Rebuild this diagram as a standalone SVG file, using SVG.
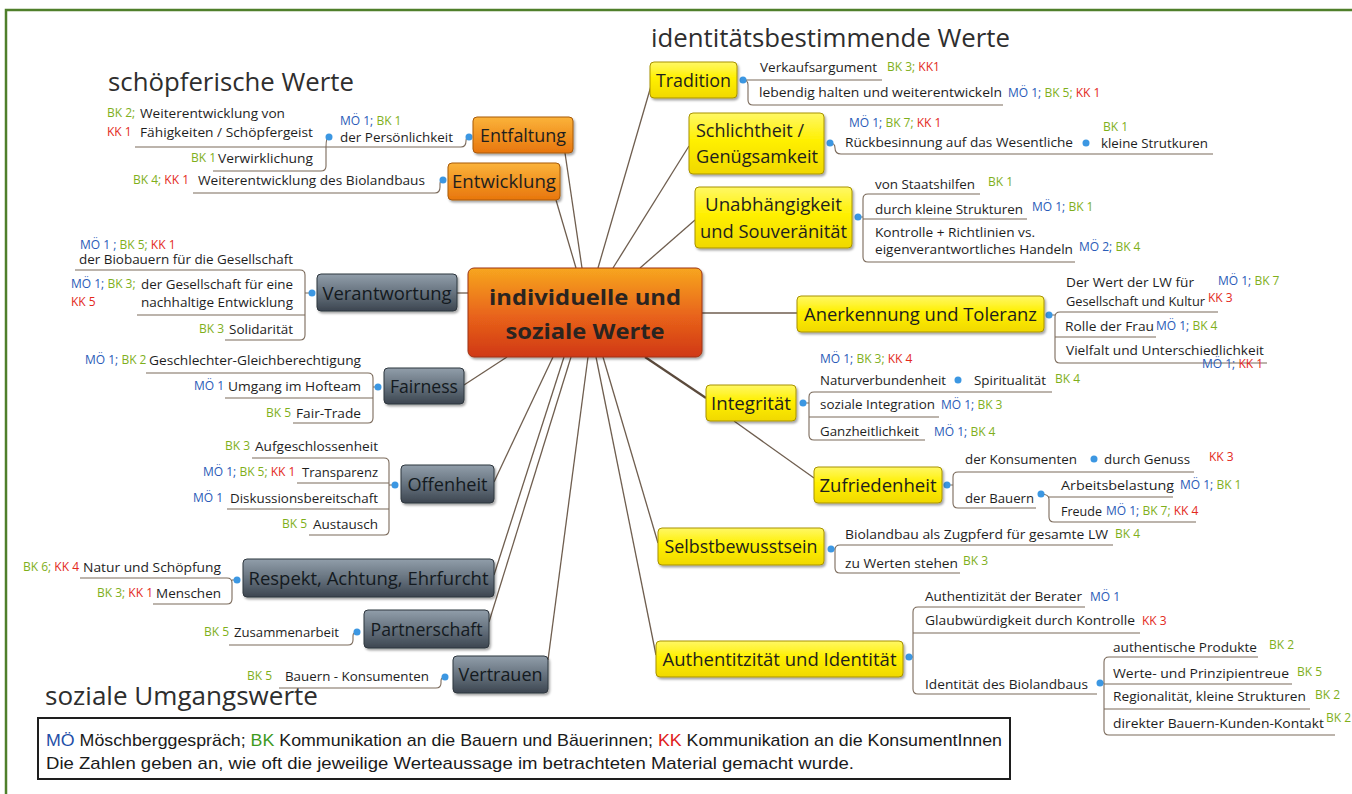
<svg xmlns="http://www.w3.org/2000/svg" width="1352" height="794" viewBox="0 0 1352 794">
<defs>
<linearGradient id="gY" x1="0" y1="0" x2="0" y2="1"><stop offset="0" stop-color="#FFF866"/><stop offset="0.45" stop-color="#FFF000"/><stop offset="1" stop-color="#F0D800"/></linearGradient>
<linearGradient id="gO" x1="0" y1="0" x2="0" y2="1"><stop offset="0" stop-color="#FBB33A"/><stop offset="1" stop-color="#E8760D"/></linearGradient>
<linearGradient id="gG" x1="0" y1="0" x2="0" y2="1"><stop offset="0" stop-color="#919EAA"/><stop offset="0.5" stop-color="#67737F"/><stop offset="1" stop-color="#3C4650"/></linearGradient>
<linearGradient id="gC" x1="0" y1="0" x2="0" y2="1"><stop offset="0" stop-color="#F7A620"/><stop offset="0.55" stop-color="#E8621A"/><stop offset="1" stop-color="#D03816"/></linearGradient>
<filter id="sh" x="-10%" y="-15%" width="125%" height="145%"><feDropShadow dx="1.5" dy="2" stdDeviation="1.2" flood-color="#000" flood-opacity="0.35"/></filter>
</defs>
<style>
text{font-family:"Open Sans","Noto Sans","DejaVu Sans",sans-serif}
.t{font-size:13.5px;fill:#1E1E1E}
.l{font-size:12px}
.mo{fill:#2A5CB8}.bk{fill:#7FAF1B}.kk{fill:#E32A1C}
.ln{fill:none;stroke:#7B6A5B;stroke-width:1.1}
.cn{fill:none;stroke:#6F5E4F;stroke-width:1.3}
.dot{fill:#3C97E2}
.by{fill:url(#gY);stroke:#A89200;stroke-width:1;filter:url(#sh)}
.bo{fill:url(#gO);stroke:#A85A0A;stroke-width:1;filter:url(#sh)}
.bg{fill:url(#gG);stroke:#2E363E;stroke-width:1;filter:url(#sh)}
.bc{fill:url(#gC);stroke:#9C3413;stroke-width:1;filter:url(#sh)}
.bt{font-size:18.5px;fill:#1E1E1E}
.gt{font-size:18.5px;fill:#141A20}
.ct{font-size:22px;font-weight:bold;fill:#2A2420}
.ti{font-size:26px;fill:#2E2E2E}
.lg{font-family:"Liberation Sans Narrow","Liberation Sans",Arial,sans-serif;font-size:17px;fill:#1A1A1A}
.lmo{fill:#1F4FA8}.lbk{fill:#3E9A1E}.lkk{fill:#E02020}
</style>

<path d="M6,794 V10 H1352" fill="none" stroke="#4F7F2B" stroke-width="2.5"/>

<g id="titles">
<text class="ti" x="651" y="47" textLength="359" lengthAdjust="spacingAndGlyphs">identitätsbestimmende Werte</text>
<text class="ti" x="108" y="91" textLength="246" lengthAdjust="spacingAndGlyphs">schöpferische Werte</text>
<text class="ti" x="45" y="705" textLength="273" lengthAdjust="spacingAndGlyphs">soziale Umgangswerte</text>
</g>

<g id="connectors">
<path class="cn" d="M565,153 L582,268"/>
<path class="cn" d="M556,200 L576,268"/>
<path class="cn" d="M457,293 H468"/>
<path class="cn" d="M464,385 L507,357"/>
<path class="cn" d="M494,482 L553,357"/>
<path class="cn" d="M494,575 L564,357"/>
<path class="cn" d="M489,622 L571,357"/>
<path class="cn" d="M548,660 L588,357"/>
<path class="cn" d="M598,268 L651,86"/>
<path class="cn" d="M613,268 L689,146"/>
<path class="cn" d="M640,268 L695,220"/>
<path class="cn" d="M702,313 H797"/>
<path class="cn" style="stroke-width:2.2;stroke:#5B4A3C" d="M645,357 L706,398"/>
<path class="cn" d="M734,421 L814,478"/>
<path class="cn" d="M603,357 L658,543"/>
<path class="cn" d="M596,357 L656,655"/>

<path class="ln" d="M135,147 H461 Q466,147 466,141 Q466,137 469,137"/>
<path class="ln" d="M326,147 V166 Q326,171 321,171 H213 M326,147 Q326,137 329,137"/>
<path class="ln" d="M193,193 H435 Q440,193 440,187 V184 Q440,180 443,180"/>
<path class="ln" d="M75,270 H300 Q305,270 305,275 V335 Q305,340 300,340 H225 M137,315 H305 M305,293 H312"/>
<path class="ln" d="M146,373 H368 Q373,373 373,378 V418 Q373,423 368,423 H293 M225,398 H373 M373,387 H378"/>
<path class="ln" d="M252,458 H384 Q389,458 389,463 V530 Q389,535 384,535 H309 M297,483 H389 M227,509 H389 M389,485 H395"/>
<path class="ln" d="M80,578 H227 Q232,578 232,583 V599 Q232,604 227,604 H153 M232,580 H237"/>
<path class="ln" d="M229,645 H348 Q353,645 353,640 V636 Q353,632 357,632"/>
<path class="ln" d="M279,688 H436 Q441,688 441,683 V681 Q441,677 445,677"/>
<path class="ln" d="M743,80 H882 M743,80 Q748,80 748,85 V100 Q748,105 753,105 H1003"/>
<path class="ln" d="M830,143 Q835,143 835,148 Q835,154 841,154 H1213"/>
<path class="ln" d="M980,194 H868 Q863,194 863,199 V257 Q863,262 868,262 H1075 M863,219 H1027 M858,217 H863"/>
<path class="ln" d="M1218,312 H1060 Q1055,312 1055,317 V358 Q1055,363 1060,363 H1267 M1055,337 H1156 M1049,315 H1055"/>
<path class="ln" d="M1052,392 H814 Q809,392 809,397 V435 Q809,440 814,440 H925 M809,417 H939 M803,403 H809"/>
<path class="ln" d="M1194,472 H958 Q953,472 953,477 V503 Q953,508 958,508 H1036 M947,485 H953"/>
<path class="ln" d="M1040,494 Q1049,494 1049,499 V517 Q1049,522 1054,522 H1196 M1049,497 H1173"/>
<path class="ln" d="M1113,545 H840 Q835,545 835,550 V568 Q835,573 840,573 H960 M831,549 H835"/>
<path class="ln" d="M1085,607 H918 Q913,607 913,612 V689 Q913,694 918,694 H1097 M913,633 H1140 M909,657 H913"/>
<path class="ln" d="M1258,657 H1109 Q1104,657 1104,662 V730 Q1104,735 1109,735 H1335 M1104,684 H1292 M1104,709 H1310 M1100,683 H1104"/>

<circle class="dot" cx="329" cy="137" r="3.5"/>
<circle class="dot" cx="469" cy="137" r="3.5"/>
<circle class="dot" cx="443" cy="180" r="3.5"/>
<circle class="dot" cx="312" cy="293" r="3.5"/>
<circle class="dot" cx="378" cy="387" r="3.5"/>
<circle class="dot" cx="395" cy="485" r="3.5"/>
<circle class="dot" cx="237" cy="580" r="3.5"/>
<circle class="dot" cx="357" cy="632" r="3.5"/>
<circle class="dot" cx="445" cy="677" r="3.5"/>
<circle class="dot" cx="743" cy="80" r="3.5"/>
<circle class="dot" cx="830" cy="143" r="3.5"/>
<circle class="dot" cx="1086" cy="143" r="3.5"/>
<circle class="dot" cx="858" cy="217" r="3.5"/>
<circle class="dot" cx="1049" cy="315" r="3.5"/>
<circle class="dot" cx="803" cy="403" r="3.5"/>
<circle class="dot" cx="958" cy="380" r="3.5"/>
<circle class="dot" cx="947" cy="485" r="3.5"/>
<circle class="dot" cx="1094" cy="459" r="3.5"/>
<circle class="dot" cx="1041" cy="494" r="3.5"/>
<circle class="dot" cx="831" cy="549" r="3.5"/>
<circle class="dot" cx="909" cy="657" r="3.5"/>
<circle class="dot" cx="1100" cy="683" r="3.5"/>
</g>

<g id="center">
<rect class="bc" x="468" y="268" width="234" height="89" rx="6"/>
<text class="ct" x="585" y="305" text-anchor="middle" textLength="192" lengthAdjust="spacingAndGlyphs">individuelle und</text>
<text class="ct" x="585" y="339" text-anchor="middle" textLength="159" lengthAdjust="spacingAndGlyphs">soziale Werte</text>
</g>

<g id="entfaltung">
<rect class="bo" x="473" y="117" width="100" height="36" rx="4"/>
<text class="bt" x="523" y="141.5" text-anchor="middle" textLength="86" lengthAdjust="spacingAndGlyphs">Entfaltung</text>
<g id="persoenlichkeit">
<text class="l" x="340" y="125"><tspan class="mo">MÖ 1;</tspan> <tspan class="bk">BK 1</tspan></text>
<text class="t" x="340" y="142" textLength="113" lengthAdjust="spacingAndGlyphs">der Persönlichkeit</text>
</g>
<g id="faehigkeiten">
<text class="l bk" x="107" y="117">BK 2;</text>
<text class="l kk" x="107" y="136">KK 1</text>
<text class="t" x="140" y="117.5" textLength="145" lengthAdjust="spacingAndGlyphs">Weiterentwicklung von</text>
<text class="t" x="140" y="136.5" textLength="173" lengthAdjust="spacingAndGlyphs">Fähigkeiten / Schöpfergeist</text>
</g>
<g id="verwirklichung">
<text class="l bk" x="191" y="162">BK 1</text>
<text class="t" x="218" y="162.5" textLength="95" lengthAdjust="spacingAndGlyphs">Verwirklichung</text>
</g>
</g>

<g id="entwicklung">
<rect class="bo" x="448" y="163" width="112" height="37" rx="4"/>
<text class="bt" x="504" y="188" text-anchor="middle" textLength="104" lengthAdjust="spacingAndGlyphs">Entwicklung</text>
<g id="weiterentwicklung-biolandbau">
<text class="l" x="133" y="184"><tspan class="bk">BK 4;</tspan> <tspan class="kk">KK 1</tspan></text>
<text class="t" x="198" y="184.5" textLength="227" lengthAdjust="spacingAndGlyphs">Weiterentwicklung des Biolandbaus</text>
</g>
</g>

<g id="verantwortung">
<rect class="bg" x="317" y="274" width="140" height="37" rx="4"/>
<text class="gt" x="387" y="299.5" text-anchor="middle" textLength="129" lengthAdjust="spacingAndGlyphs">Verantwortung</text>
<g id="biobauern">
<text class="l" x="80" y="249"><tspan class="mo">MÖ 1 ;</tspan> <tspan class="bk">BK 5;</tspan> <tspan class="kk">KK 1</tspan></text>
<text class="t" x="79" y="263.5" textLength="214" lengthAdjust="spacingAndGlyphs">der Biobauern für die Gesellschaft</text>
</g>
<g id="gesellschaft">
<text class="l" x="71" y="288"><tspan class="mo">MÖ 1;</tspan> <tspan class="bk">BK 3;</tspan></text>
<text class="l kk" x="71" y="306">KK 5</text>
<text class="t" x="141" y="288.5" textLength="152" lengthAdjust="spacingAndGlyphs">der Gesellschaft für eine</text>
<text class="t" x="141" y="306.5" textLength="152" lengthAdjust="spacingAndGlyphs">nachhaltige Entwicklung</text>
</g>
<g id="solidaritaet">
<text class="l bk" x="199" y="333">BK 3</text>
<text class="t" x="229" y="333.5" textLength="64" lengthAdjust="spacingAndGlyphs">Solidarität</text>
</g>
</g>

<g id="fairness">
<rect class="bg" x="384" y="368" width="80" height="36" rx="4"/>
<text class="gt" x="424" y="393" text-anchor="middle" textLength="68" lengthAdjust="spacingAndGlyphs">Fairness</text>
<g id="gleichberechtigung">
<text class="l" x="85" y="364"><tspan class="mo">MÖ 1;</tspan> <tspan class="bk">BK 2</tspan></text>
<text class="t" x="149" y="364.5" textLength="212" lengthAdjust="spacingAndGlyphs">Geschlechter-Gleichberechtigung</text>
</g>
<g id="hofteam">
<text class="l mo" x="194" y="390">MÖ 1</text>
<text class="t" x="228" y="390.5" textLength="133" lengthAdjust="spacingAndGlyphs">Umgang im Hofteam</text>
</g>
<g id="fairtrade">
<text class="l bk" x="266" y="417">BK 5</text>
<text class="t" x="296" y="417.5" textLength="65" lengthAdjust="spacingAndGlyphs">Fair-Trade</text>
</g>
</g>

<g id="offenheit">
<rect class="bg" x="401" y="465" width="93" height="38" rx="4"/>
<text class="gt" x="447.5" y="490.5" text-anchor="middle" textLength="80" lengthAdjust="spacingAndGlyphs">Offenheit</text>
<g id="aufgeschlossenheit">
<text class="l bk" x="225" y="450">BK 3</text>
<text class="t" x="255" y="450.5" textLength="123" lengthAdjust="spacingAndGlyphs">Aufgeschlossenheit</text>
</g>
<g id="transparenz">
<text class="l" x="203" y="476"><tspan class="mo">MÖ 1;</tspan> <tspan class="bk">BK 5;</tspan> <tspan class="kk">KK 1</tspan></text>
<text class="t" x="302" y="476.5" textLength="76" lengthAdjust="spacingAndGlyphs">Transparenz</text>
</g>
<g id="diskussion">
<text class="l mo" x="193" y="502">MÖ 1</text>
<text class="t" x="230" y="502.5" textLength="148" lengthAdjust="spacingAndGlyphs">Diskussionsbereitschaft</text>
</g>
<g id="austausch">
<text class="l bk" x="282" y="528">BK 5</text>
<text class="t" x="313" y="528.5" textLength="65" lengthAdjust="spacingAndGlyphs">Austausch</text>
</g>
</g>

<g id="respekt">
<rect class="bg" x="243" y="559" width="251" height="38" rx="4"/>
<text class="gt" x="368.5" y="584.5" text-anchor="middle" textLength="240" lengthAdjust="spacingAndGlyphs">Respekt, Achtung, Ehrfurcht</text>
<g id="natur">
<text class="l" x="23" y="571"><tspan class="bk">BK 6;</tspan> <tspan class="kk">KK 4</tspan></text>
<text class="t" x="83" y="571.5" textLength="138" lengthAdjust="spacingAndGlyphs">Natur und Schöpfung</text>
</g>
<g id="menschen">
<text class="l" x="97" y="597"><tspan class="bk">BK 3;</tspan> <tspan class="kk">KK 1</tspan></text>
<text class="t" x="156" y="597.5" textLength="65" lengthAdjust="spacingAndGlyphs">Menschen</text>
</g>
</g>

<g id="partnerschaft">
<rect class="bg" x="364" y="610" width="125" height="38" rx="4"/>
<text class="gt" x="426.5" y="635.5" text-anchor="middle" textLength="112" lengthAdjust="spacingAndGlyphs">Partnerschaft</text>
<g id="zusammenarbeit">
<text class="l bk" x="204" y="636">BK 5</text>
<text class="t" x="234" y="636.5" textLength="105" lengthAdjust="spacingAndGlyphs">Zusammenarbeit</text>
</g>
</g>

<g id="vertrauen">
<rect class="bg" x="453" y="656" width="95" height="37" rx="4"/>
<text class="gt" x="500.5" y="681" text-anchor="middle" textLength="84" lengthAdjust="spacingAndGlyphs">Vertrauen</text>
<g id="bauern-konsumenten">
<text class="l bk" x="247" y="680">BK 5</text>
<text class="t" x="285" y="680.5" textLength="144" lengthAdjust="spacingAndGlyphs">Bauern - Konsumenten</text>
</g>
</g>

<g id="tradition">
<rect class="by" x="650" y="62" width="87" height="36" rx="4"/>
<text class="bt" x="693.5" y="86.5" text-anchor="middle" textLength="75" lengthAdjust="spacingAndGlyphs">Tradition</text>
<g id="verkaufsargument">
<text class="t" x="760" y="71.5" textLength="117" lengthAdjust="spacingAndGlyphs">Verkaufsargument</text>
<text class="l" x="887" y="71"><tspan class="bk">BK 3;</tspan> <tspan class="kk">KK1</tspan></text>
</g>
<g id="lebendig">
<text class="t" x="759" y="96.5" textLength="243" lengthAdjust="spacingAndGlyphs">lebendig halten und weiterentwickeln</text>
<text class="l" x="1008" y="97"><tspan class="mo">MÖ 1;</tspan> <tspan class="bk">BK 5;</tspan> <tspan class="kk">KK 1</tspan></text>
</g>
</g>

<g id="schlichtheit">
<rect class="by" x="689" y="113" width="135" height="61" rx="4"/>
<text class="bt" x="696" y="137" textLength="108" lengthAdjust="spacingAndGlyphs">Schlichtheit /</text>
<text class="bt" x="696" y="163" textLength="122" lengthAdjust="spacingAndGlyphs">Genügsamkeit</text>
<g id="rueckbesinnung">
<text class="l" x="849" y="127"><tspan class="mo">MÖ 1;</tspan> <tspan class="bk">BK 7;</tspan> <tspan class="kk">KK 1</tspan></text>
<text class="t" x="845" y="146.5" textLength="228" lengthAdjust="spacingAndGlyphs">Rückbesinnung auf das Wesentliche</text>
</g>
<g id="kleine-strukturen">
<text class="l bk" x="1103" y="131">BK 1</text>
<text class="t" x="1101" y="147.5" textLength="107" lengthAdjust="spacingAndGlyphs">kleine Strutkuren</text>
</g>
</g>

<g id="unabhaengigkeit">
<rect class="by" x="695" y="187" width="157" height="61" rx="4"/>
<text class="bt" x="773.5" y="211" text-anchor="middle" textLength="137" lengthAdjust="spacingAndGlyphs">Unabhängigkeit</text>
<text class="bt" x="773.5" y="238" text-anchor="middle" textLength="147" lengthAdjust="spacingAndGlyphs">und Souveränität</text>
<g id="staatshilfen">
<text class="t" x="875" y="188.5" textLength="100" lengthAdjust="spacingAndGlyphs">von Staatshilfen</text>
<text class="l bk" x="988" y="186">BK 1</text>
</g>
<g id="kleine-strukturen2">
<text class="t" x="875" y="213.5" textLength="148" lengthAdjust="spacingAndGlyphs">durch kleine Strukturen</text>
<text class="l" x="1032" y="211"><tspan class="mo">MÖ 1;</tspan> <tspan class="bk">BK 1</tspan></text>
</g>
<g id="kontrolle">
<text class="t" x="875" y="236.5" textLength="160" lengthAdjust="spacingAndGlyphs">Kontrolle + Richtlinien vs.</text>
<text class="t" x="875" y="253.5" textLength="198" lengthAdjust="spacingAndGlyphs">eigenverantwortliches Handeln</text>
<text class="l" x="1079" y="251"><tspan class="mo">MÖ 2;</tspan> <tspan class="bk">BK 4</tspan></text>
</g>
</g>

<g id="anerkennung">
<rect class="by" x="797" y="296" width="247" height="36" rx="4"/>
<text class="bt" x="920.5" y="320.5" text-anchor="middle" textLength="233" lengthAdjust="spacingAndGlyphs">Anerkennung und Toleranz</text>
<g id="wert-lw">
<text class="t" x="1066" y="286.5" textLength="128" lengthAdjust="spacingAndGlyphs">Der Wert der LW für</text>
<text class="t" x="1066" y="305.5" textLength="139" lengthAdjust="spacingAndGlyphs">Gesellschaft und Kultur</text>
<text class="l" x="1218" y="285"><tspan class="mo">MÖ 1;</tspan> <tspan class="bk">BK 7</tspan></text>
<text class="l kk" x="1208" y="302">KK 3</text>
</g>
<g id="rolle-frau">
<text class="t" x="1065" y="330.5" textLength="89" lengthAdjust="spacingAndGlyphs">Rolle der Frau</text>
<text class="l" x="1156" y="330"><tspan class="mo">MÖ 1;</tspan> <tspan class="bk">BK 4</tspan></text>
</g>
<g id="vielfalt">
<text class="t" x="1066" y="355" textLength="198" lengthAdjust="spacingAndGlyphs">Vielfalt und Unterschiedlichkeit</text>
<text class="l" x="1202" y="368"><tspan class="mo">MÖ 1;</tspan> <tspan class="kk">KK 1</tspan></text>
</g>
</g>

<g id="integritaet">
<rect class="by" x="706" y="385" width="90" height="36" rx="4"/>
<text class="bt" x="751" y="409.5" text-anchor="middle" textLength="80" lengthAdjust="spacingAndGlyphs">Integrität</text>
<g id="naturverbundenheit">
<text class="l" x="820" y="363"><tspan class="mo">MÖ 1;</tspan> <tspan class="bk">BK 3;</tspan> <tspan class="kk">KK 4</tspan></text>
<text class="t" x="820" y="384.5" textLength="126" lengthAdjust="spacingAndGlyphs">Naturverbundenheit</text>
</g>
<g id="spiritualitaet">
<text class="t" x="974" y="384.5" textLength="72" lengthAdjust="spacingAndGlyphs">Spiritualität</text>
<text class="l bk" x="1055" y="383">BK 4</text>
</g>
<g id="soziale-integration">
<text class="t" x="820" y="408.5" textLength="115" lengthAdjust="spacingAndGlyphs">soziale Integration</text>
<text class="l" x="941" y="409"><tspan class="mo">MÖ 1;</tspan> <tspan class="bk">BK 3</tspan></text>
</g>
<g id="ganzheitlichkeit">
<text class="t" x="820" y="435.5" textLength="99" lengthAdjust="spacingAndGlyphs">Ganzheitlichkeit</text>
<text class="l" x="934" y="436"><tspan class="mo">MÖ 1;</tspan> <tspan class="bk">BK 4</tspan></text>
</g>
</g>

<g id="zufriedenheit">
<rect class="by" x="814" y="467" width="128" height="36" rx="4"/>
<text class="bt" x="878" y="491.5" text-anchor="middle" textLength="117" lengthAdjust="spacingAndGlyphs">Zufriedenheit</text>
<g id="konsumenten">
<text class="t" x="965" y="463.5" textLength="112" lengthAdjust="spacingAndGlyphs">der Konsumenten</text>
</g>
<g id="genuss">
<text class="t" x="1104" y="463.5" textLength="86" lengthAdjust="spacingAndGlyphs">durch Genuss</text>
<text class="l kk" x="1209" y="461">KK 3</text>
</g>
<g id="bauern">
<text class="t" x="965" y="502.5" textLength="69" lengthAdjust="spacingAndGlyphs">der Bauern</text>
</g>
<g id="arbeitsbelastung">
<text class="t" x="1061" y="489.5" textLength="113" lengthAdjust="spacingAndGlyphs">Arbeitsbelastung</text>
<text class="l" x="1180" y="489"><tspan class="mo">MÖ 1;</tspan> <tspan class="bk">BK 1</tspan></text>
</g>
<g id="freude">
<text class="t" x="1061" y="515.5" textLength="41" lengthAdjust="spacingAndGlyphs">Freude</text>
<text class="l" x="1106" y="515"><tspan class="mo">MÖ 1;</tspan> <tspan class="bk">BK 7;</tspan> <tspan class="kk">KK 4</tspan></text>
</g>
</g>

<g id="selbstbewusstsein">
<rect class="by" x="658" y="528" width="166" height="37" rx="4"/>
<text class="bt" x="741" y="553" text-anchor="middle" textLength="153" lengthAdjust="spacingAndGlyphs">Selbstbewusstsein</text>
<g id="zugpferd">
<text class="t" x="845" y="538.5" textLength="263" lengthAdjust="spacingAndGlyphs">Biolandbau als Zugpferd für gesamte LW</text>
<text class="l bk" x="1115" y="538">BK 4</text>
</g>
<g id="zu-werten">
<text class="t" x="845" y="567.5" textLength="113" lengthAdjust="spacingAndGlyphs">zu Werten stehen</text>
<text class="l bk" x="963" y="565">BK 3</text>
</g>
</g>

<g id="authentizitaet">
<rect class="by" x="656" y="641" width="247" height="36" rx="4"/>
<text class="bt" x="779.5" y="665.5" text-anchor="middle" textLength="234" lengthAdjust="spacingAndGlyphs">Authentitzität und Identität</text>
<g id="berater">
<text class="t" x="925" y="600.5" textLength="157" lengthAdjust="spacingAndGlyphs">Authentizität der Berater</text>
<text class="l mo" x="1090" y="601">MÖ 1</text>
</g>
<g id="glaubwuerdigkeit">
<text class="t" x="925" y="624.5" textLength="210" lengthAdjust="spacingAndGlyphs">Glaubwürdigkeit durch Kontrolle</text>
<text class="l kk" x="1142" y="625">KK 3</text>
</g>
<g id="identitaet-biolandbau">
<text class="t" x="925" y="688.5" textLength="163" lengthAdjust="spacingAndGlyphs">Identität des Biolandbaus</text>
</g>
<g id="produkte">
<text class="t" x="1113" y="651.5" textLength="144" lengthAdjust="spacingAndGlyphs">authentische Produkte</text>
<text class="l bk" x="1269" y="649">BK 2</text>
</g>
<g id="prinzipientreue">
<text class="t" x="1113" y="677.5" textLength="176" lengthAdjust="spacingAndGlyphs">Werte- und Prinzipientreue</text>
<text class="l bk" x="1297" y="676">BK 5</text>
</g>
<g id="regionalitaet">
<text class="t" x="1113" y="700.5" textLength="193" lengthAdjust="spacingAndGlyphs">Regionalität, kleine Strukturen</text>
<text class="l bk" x="1315" y="699">BK 2</text>
</g>
<g id="kundenkontakt">
<text class="t" x="1113" y="727.5" textLength="211" lengthAdjust="spacingAndGlyphs">direkter Bauern-Kunden-Kontakt</text>
<text class="l bk" x="1326" y="722">BK 2</text>
</g>
</g>

<g id="legend">
<rect x="38" y="718" width="972" height="61" fill="#FFFFFF" stroke="#1E1E1E" stroke-width="2"/>
<text class="lg" x="46" y="746" textLength="956" lengthAdjust="spacingAndGlyphs"><tspan class="lmo">MÖ</tspan> Möschberggespräch; <tspan class="lbk">BK</tspan> Kommunikation an die Bauern und Bäuerinnen; <tspan class="lkk">KK</tspan> Kommunikation an die KonsumentInnen</text>
<text class="lg" x="46" y="769" textLength="808" lengthAdjust="spacingAndGlyphs">Die Zahlen geben an, wie oft die jeweilige Werteaussage im betrachteten Material gemacht wurde.</text>
</g>
</svg>
